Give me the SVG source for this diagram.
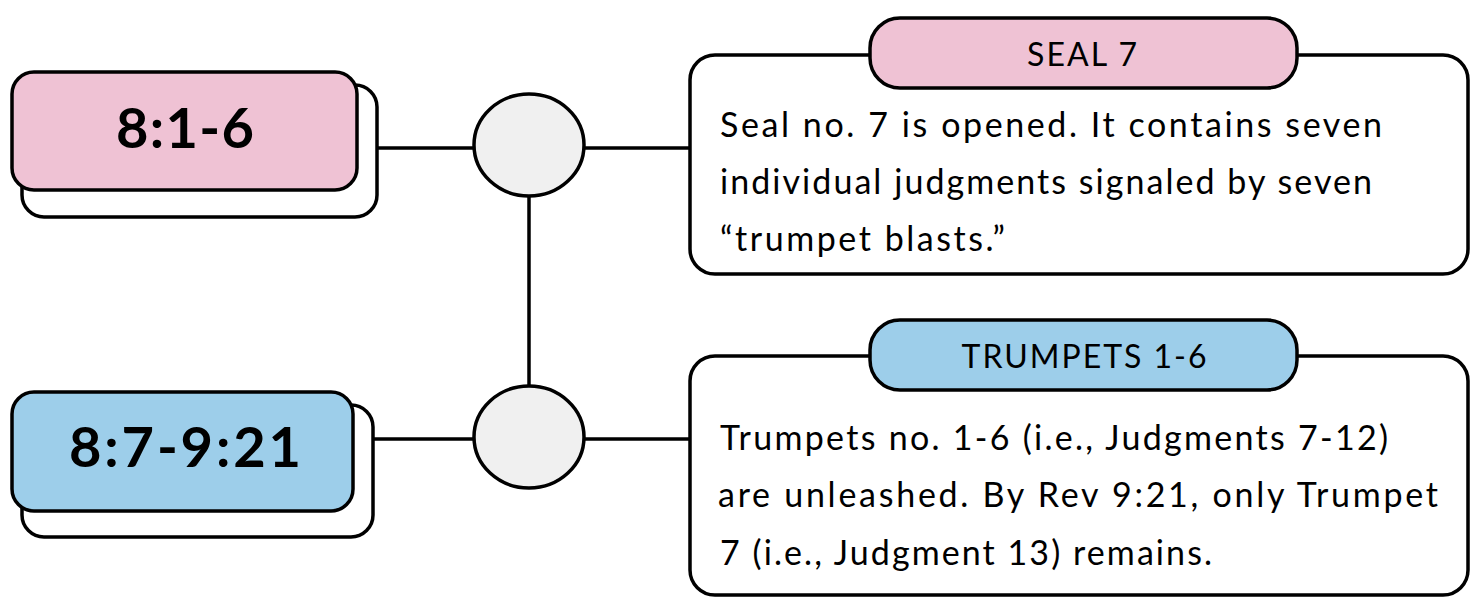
<svg xmlns="http://www.w3.org/2000/svg" width="1471" height="597" viewBox="0 0 1471 597">
<style>
.s{stroke:#000;stroke-width:3.5;}
.back{fill:#fff;}
.pink{fill:#EFC2D4;}
.blue{fill:#9DCEEA;}
.dot{fill:#F0F0F0;}
.ln{stroke:#000;stroke-width:3.5;fill:none;}
.big{font-family:Lato,"Noto Sans",sans-serif;font-size:56px;font-weight:bold;fill:#000;text-anchor:middle;}
.ttl{font-family:Lato,"Noto Sans",sans-serif;font-size:32px;fill:#000;text-anchor:middle;}
.body{font-family:Lato,"Noto Sans",sans-serif;font-size:34px;fill:#000;}
</style>
<rect width="1471" height="597" fill="#fff"/>
<g id="connectors">
<line class="ln" x1="377" y1="148" x2="474" y2="148"/>
<line class="ln" x1="584" y1="148" x2="700" y2="148"/>
<line class="ln" x1="373" y1="439" x2="474" y2="439"/>
<line class="ln" x1="584" y1="439" x2="690" y2="439"/>
<line class="ln" x1="529" y1="195" x2="529" y2="387"/>
</g>
<g id="node-8-1-6">
<rect class="s back" x="22" y="85" width="355" height="132" rx="22"/>
<rect class="s pink" x="12" y="72" width="345" height="118" rx="22"/>
<text class="big" x="185" y="148" textLength="138" lengthAdjust="spacing">8:1-6</text>
</g>
<g id="node-8-7-9-21">
<rect class="s back" x="22" y="405" width="351" height="132" rx="22"/>
<rect class="s blue" x="12" y="392" width="341" height="119" rx="22"/>
<text class="big" x="185" y="467" textLength="232" lengthAdjust="spacing">8:7-9:21</text>
</g>
<g id="circle-top">
<ellipse class="s dot" cx="529" cy="145" rx="55" ry="51"/>
</g>
<g id="circle-bottom">
<ellipse class="s dot" cx="529" cy="437" rx="55" ry="51"/>
</g>
<g id="box-seal7">
<rect class="s" fill="#fff" x="690" y="55" width="778" height="219" rx="25"/>
<rect class="s pink" x="870" y="18" width="427" height="70" rx="30"/>
<text class="ttl" x="1082" y="66" textLength="110" lengthAdjust="spacing">SEAL 7</text>
<text class="body" x="720" y="137" textLength="662" lengthAdjust="spacing">Seal no. 7 is opened. It contains seven</text>
<text class="body" x="720" y="194" textLength="652" lengthAdjust="spacing">individual judgments signaled by seven</text>
<text class="body" x="720" y="251" textLength="285" lengthAdjust="spacing">“trumpet blasts.”</text>
</g>
<g id="box-trumpets">
<rect class="s" fill="#fff" x="690" y="356" width="778" height="239" rx="25"/>
<rect class="s blue" x="870" y="320" width="427" height="70" rx="30"/>
<text class="ttl" x="1084" y="368" textLength="245" lengthAdjust="spacing">TRUMPETS 1-6</text>
<text class="body" x="720" y="450" textLength="668" lengthAdjust="spacing">Trumpets no. 1-6 (i.e., Judgments 7-12)</text>
<text class="body" x="718" y="507" textLength="720" lengthAdjust="spacing">are unleashed. By Rev 9:21, only Trumpet</text>
<text class="body" x="720" y="565" textLength="492" lengthAdjust="spacing">7 (i.e., Judgment 13) remains.</text>
</g>
</svg>
